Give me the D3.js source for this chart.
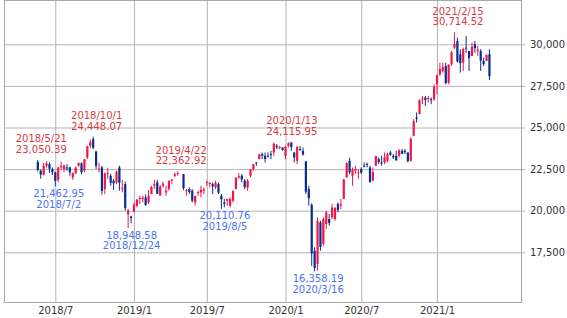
<!DOCTYPE html>
<html>
<head>
<meta charset="utf-8">
<script src="https://cdn.jsdelivr.net/npm/d3@7"></script>
<style>
  body { margin: 0; background: #fff; }
  svg { display: block; font-family: "DejaVu Sans", sans-serif; }
</style>
</head>
<body>
<div id="chart"></div>
<script>
// weekly candles, Monday of each week (market closed the week of 2019/4/29)
const weekStarts = [
  "2018-05-21","2018-05-28","2018-06-04","2018-06-11","2018-06-18","2018-06-25","2018-07-02","2018-07-09","2018-07-16","2018-07-23",
  "2018-07-30","2018-08-06","2018-08-13","2018-08-20","2018-08-27","2018-09-03","2018-09-10","2018-09-17","2018-09-24","2018-10-01",
  "2018-10-08","2018-10-15","2018-10-22","2018-10-29","2018-11-05","2018-11-12","2018-11-19","2018-11-26","2018-12-03","2018-12-10",
  "2018-12-17","2018-12-24","2018-12-31","2019-01-07","2019-01-14","2019-01-21","2019-01-28","2019-02-04","2019-02-11","2019-02-18",
  "2019-02-25","2019-03-04","2019-03-11","2019-03-18","2019-03-25","2019-04-01","2019-04-08","2019-04-15","2019-04-22","2019-05-06",
  "2019-05-13","2019-05-20","2019-05-27","2019-06-03","2019-06-10","2019-06-17","2019-06-24","2019-07-01","2019-07-08","2019-07-15",
  "2019-07-22","2019-07-29","2019-08-05","2019-08-12","2019-08-19","2019-08-26","2019-09-02","2019-09-09","2019-09-16","2019-09-23",
  "2019-09-30","2019-10-07","2019-10-14","2019-10-21","2019-10-28","2019-11-04","2019-11-11","2019-11-18","2019-11-25","2019-12-02",
  "2019-12-09","2019-12-16","2019-12-23","2019-12-30","2020-01-06","2020-01-13","2020-01-20","2020-01-27","2020-02-03","2020-02-10",
  "2020-02-17","2020-02-24","2020-03-02","2020-03-09","2020-03-16","2020-03-23","2020-03-30","2020-04-06","2020-04-13","2020-04-20",
  "2020-04-27","2020-05-04","2020-05-11","2020-05-18","2020-05-25","2020-06-01","2020-06-08","2020-06-15","2020-06-22","2020-06-29",
  "2020-07-06","2020-07-13","2020-07-20","2020-07-27","2020-08-03","2020-08-10","2020-08-17","2020-08-24","2020-08-31","2020-09-07",
  "2020-09-14","2020-09-21","2020-09-28","2020-10-05","2020-10-12","2020-10-19","2020-10-26","2020-11-02","2020-11-09","2020-11-16",
  "2020-11-23","2020-11-30","2020-12-07","2020-12-14","2020-12-21","2020-12-28","2021-01-04","2021-01-11","2021-01-18","2021-01-25",
  "2021-02-01","2021-02-08","2021-02-15","2021-02-22","2021-03-01","2021-03-08","2021-03-15","2021-03-22","2021-03-29","2021-04-05",
  "2021-04-12","2021-04-19","2021-04-26","2021-05-03","2021-05-10"
];

const openValues = [
  22930,22400,22150,22700,22800,22500,22300,21850,22600,22500,
  22600,22600,22000,22250,22700,22850,22400,23200,23900,24300,
  23550,22500,22600,21300,22200,22100,21800,21700,22600,21300,
  21600,19785,19655,19944,20300,20700,20700,20800,20500,21000,
  21500,21700,20900,21500,21100,21300,21800,22100,22200,22200,
  21200,21300,21200,20500,21100,21100,21200,21700,21600,21600,
  21400,21600,20900,20500,20600,20300,20600,21300,22000,22100,
  21800,21400,22100,22500,22900,23100,23400,23300,23300,23400,
  23500,23900,23800,23800,23300,23900,24100,23500,23000,23700,
  23600,22950,21300,20350,17586,16800,19300,18000,19200,19500,
  19600,19500,20400,20300,20700,22000,23000,22100,22400,22300,
  22500,22700,22800,22600,21800,22700,23100,22900,22900,23000,
  23500,23300,23300,23300,23600,23600,23500,23000,24500,25600,
  25800,26700,26800,26700,26700,26700,27600,28200,28400,28700,
  27700,28800,29800,30200,29400,28900,29800,29600,29300,30000,
  29600,29600,29000,29000,29400
];

const highValues = [
  23050.39,22480,22879,22966,22900,22600,22350,22630,22950,22780,
  22800,22650,22300,22650,22900,22900,23100,23900,24286,24448.07,
  23600,22900,22700,22300,22583,22200,21900,22400,22698,21860,
  21750,20100,19693,20494,20700,20900,20900,20980,21235,21500,
  21860,21850,21550,21750,21500,21800,21900,22300,22362.92,22200,
  21300,21400,21300,20900,21200,21500,21400,21800,21700,21700,
  21800,21700,21000,20700,20700,20800,21200,22000,22255,22200,
  21900,21900,22500,22800,22900,23400,23500,23500,23500,23600,
  24100,24000,23900,23800,23900,24115.95,24100,23500,23900,23900,
  23800,23000,21500,20450,17800,19600,19400,19600,20000,19800,
  20400,20200,20500,20700,21900,22900,23185,22600,22700,22500,
  22600,22900,22900,22700,22600,23300,23200,23300,23500,23500,
  23600,23400,23600,23700,23700,23700,23500,24400,25500,25900,
  26700,26900,26900,26900,26800,27600,28200,28900,28900,28900,
  28800,29600,30714.52,30400,29700,29800,30500,29600,30100,30200,
  29900,29700,29200,29400,29700
];

const lowValues = [
  22363,21931,22130,22600,22260,22150,21462.95,21700,22450,22300,
  22400,22100,21851,22200,22650,22200,22300,23100,23750,23700,
  22500,22300,20971,20989,21900,21500,21243,21600,21200,21100,
  20006,18948.58,19241,19900,20200,20400,20500,20300,20400,21000,
  21300,21000,20900,21400,20900,21200,21600,22000,22100,21250,
  20900,21000,20500,20300,20900,20800,21000,21500,21400,21000,
  21300,21000,20110.76,20200,20300,20200,20500,21300,21900,21700,
  21300,21200,22000,22400,22700,23100,23100,22900,23200,23100,
  23300,23700,23700,23600,23100,23800,23600,22900,22800,23600,
  23300,21000,20300,16690,16358.19,16400,17600,17900,18900,19100,
  19500,19400,19900,20100,20700,22000,22200,21500,22200,21900,
  22200,22600,22600,21700,21800,22700,22800,22700,22800,22900,
  23300,23100,23000,23200,23400,23400,22900,22950,24500,25300,
  25800,26400,26300,26500,26400,26600,27000,28100,28300,27600,
  27600,28700,29700,28900,28300,28400,29500,28400,29300,29500,
  29300,28400,28700,29000,27850
];

const closeValues = [
  22451,22171,22694,22851,22516,22304,21788,22597,22697,22712,
  22525,22298,22270,22601,22865,22307,23094,23869,24120,23783,
  22694,22532,21184,22243,22250,21680,21646,22351,21679,21374,
  20166,20014,19561,20359,20666,20773,20788,20333,20900,21425,
  21602,21025,21450,21627,21205,21807,21870,22200,22258,21344,
  21250,21117,20601,20884,21116,21258,21275,21746,21685,21466,
  21658,21087,20684,20418,20710,20704,21199,21988,22079,21879,
  21410,21798,22492,22799,22850,23391,23303,23112,23293,23354,
  24023,23816,23837,23656,23850,24041,23827,23205,23827,23687,
  23386,21142,20749,17431,16552,19389,17820,19498,19897,19262,
  20193,20179,20037,20388,21877,22863,22305,22478,22512,22306,
  22290,22696,22751,21710,22329,23289,22920,22882,23205,23406,
  23360,23204,23029,23619,23410,23516,22977,24325,25385,25527,
  26644,26751,26652,26763,26656,27444,28139,28519,28631,27663,
  28779,29520,30017,28966,28864,29717,29792,29176,29854,29768,
  29683,29020,28812,29357,28084
];

const tickDates = ["2018-07-02","2019-01-07","2019-07-01","2020-01-06","2020-07-06","2021-01-04"];
const tickLabels = ["2018/7","2019/1","2019/7","2020/1","2020/7","2021/1"];
const priceTicks = [17500, 20000, 22500, 25000, 27500, 30000];

const highLabelDates = ["2018-05-21","2018-10-01","2019-04-22","2020-01-13","2021-02-15"];
const highLabelValues = [23050.39, 24448.07, 22362.92, 24115.95, 30714.52];
const lowLabelDates = ["2018-07-02","2018-12-24","2019-08-05","2020-03-16"];
const lowLabelValues = [21462.95, 18948.58, 20110.76, 16358.19];

const width = 567, height = 318;
const plot = { left: 4.5, right: 521.5, top: 0.5, bottom: 302.5 };
const upColor = "#f2174a", downColor = "#0b2d8c";
const highColor = "#d63b3f", lowColor = "#4c73f2";

const parseDate = d3.timeParse("%Y-%m-%d");
const fmtDate = d3.timeFormat("%Y/%-m/%-d");
const fmtPrice = d3.format(",.2f");

const candles = weekStarts.map((d, i) => ({
  date: parseDate(d),
  open: openValues[i],
  high: highValues[i],
  low: lowValues[i],
  close: closeValues[i]
}));

const x = d3.scaleTime()
  .domain([parseDate("2018-07-02"), parseDate("2021-01-04")])
  .range([55.3, 437]);

const y = d3.scaleLinear()
  .domain([17500, 30000])
  .range([252.3, 44.3]);

const svg = d3.select("#chart")
  .append("svg")
  .attr("width", width)
  .attr("height", height);

// grid + axes
const xAxis = d3.axisBottom(x)
  .tickValues(tickDates.map(parseDate))
  .tickFormat((d, i) => tickLabels[i])
  .tickSize(-(plot.bottom - plot.top))
  .tickPadding(4);

const yAxis = d3.axisRight(y)
  .tickValues(priceTicks)
  .tickFormat(d3.format(","))
  .tickSize(-(525 - plot.left))
  .tickPadding(5);

const gx = svg.append("g")
  .attr("transform", "translate(0," + plot.bottom + ")")
  .call(xAxis);

const gy = svg.append("g")
  .attr("transform", "translate(525,0)")
  .call(yAxis);

[gx, gy].forEach(g => {
  g.select(".domain").remove();
  g.selectAll(".tick line").attr("stroke", "#b4b4b4");
  g.selectAll(".tick text")
    .attr("fill", "#333")
    .style("font-size", "10px")
    .style("font-family", '"DejaVu Sans", sans-serif');
});

svg.append("rect")
  .attr("x", plot.left)
  .attr("y", plot.top)
  .attr("width", plot.right - plot.left)
  .attr("height", plot.bottom - plot.top)
  .attr("fill", "none")
  .attr("stroke", "#a8a8a8");

// candles
const candle = svg.append("g")
  .selectAll("g")
  .data(candles)
  .enter()
  .append("g")
  .attr("stroke", d => d.close >= d.open ? upColor : downColor)
  .attr("fill", d => d.close >= d.open ? upColor : downColor);

candle.append("line")
  .attr("x1", d => x(d.date))
  .attr("x2", d => x(d.date))
  .attr("y1", d => y(d.high))
  .attr("y2", d => y(d.low))
  .attr("stroke-width", 1);

candle.append("rect")
  .attr("x", d => x(d.date) - 1.1)
  .attr("y", d => y(Math.max(d.open, d.close)))
  .attr("width", 2.2)
  .attr("height", d => Math.max(1, Math.abs(y(d.open) - y(d.close))))
  .attr("stroke", "none");

// high / low annotations
const notes = svg.append("g")
  .attr("text-anchor", "middle")
  .style("font-size", "10px");

highLabelDates.forEach((d, i) => {
  const cx = x(parseDate(d)) + 3.5;
  const cy = y(highLabelValues[i]);
  notes.append("text").attr("x", cx).attr("y", cy - 17.8)
    .attr("fill", highColor).text(fmtDate(parseDate(d)));
  notes.append("text").attr("x", cx).attr("y", cy - 7)
    .attr("fill", highColor).text(fmtPrice(highLabelValues[i]));
});

lowLabelDates.forEach((d, i) => {
  const cx = x(parseDate(d)) + 3.5;
  const cy = y(lowLabelValues[i]);
  notes.append("text").attr("x", cx).attr("y", cy + 10.5)
    .attr("fill", lowColor).text(fmtPrice(lowLabelValues[i]));
  notes.append("text").attr("x", cx).attr("y", cy + 21.3)
    .attr("fill", lowColor).text(fmtDate(parseDate(d)));
});
</script>
</body>
</html>
